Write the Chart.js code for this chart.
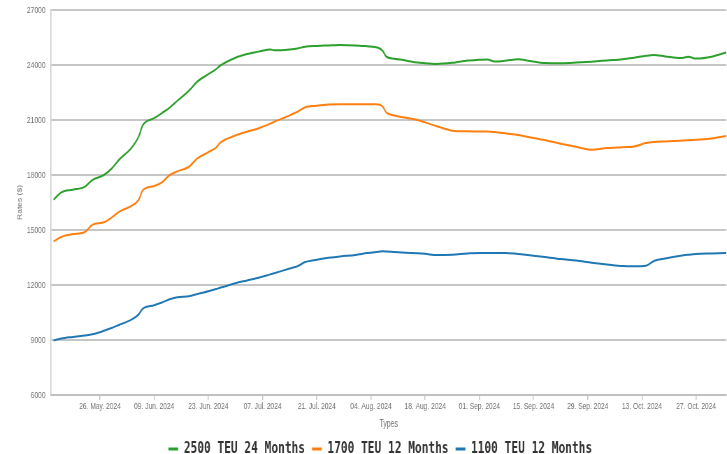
<!DOCTYPE html>
<html>
<head>
<meta charset="utf-8">
<title>Charter Rates</title>
<script src="https://cdn.jsdelivr.net/npm/chart.js@4/dist/chart.umd.min.js"></script>
<style>
    html, body { margin: 0; padding: 0; background: #fff; overflow: hidden; }
    /* the chart is drawn wide and squeezed to 727px, like the original export */
    #chart-wrap {
        width: 1040px;
        height: 454px;
        position: relative;
        transform: scaleX(0.69904);
        transform-origin: 0 0;
    }
</style>
</head>
<body>
<div id="chart-wrap"><canvas id="ratesChart"></canvas></div>
<script>
const dates = [
    '2024-05-14', '2024-05-16', '2024-05-19', '2024-05-22', '2024-05-24', '2024-05-27', '2024-05-29', '2024-05-31',
    '2024-06-03', '2024-06-05', '2024-06-06', '2024-06-09', '2024-06-11', '2024-06-13', '2024-06-15', '2024-06-18',
    '2024-06-20', '2024-06-23', '2024-06-25', '2024-06-26', '2024-06-30', '2024-07-03', '2024-07-06', '2024-07-09',
    '2024-07-10', '2024-07-14', '2024-07-16', '2024-07-18', '2024-07-21', '2024-07-24', '2024-07-27', '2024-07-31',
    '2024-08-03', '2024-08-05', '2024-08-06', '2024-08-07', '2024-08-08', '2024-08-10', '2024-08-13', '2024-08-16',
    '2024-08-18', '2024-08-21', '2024-08-25', '2024-08-29', '2024-09-01', '2024-09-03', '2024-09-05', '2024-09-08',
    '2024-09-11', '2024-09-14', '2024-09-18', '2024-09-22', '2024-09-26', '2024-09-30', '2024-10-04', '2024-10-08',
    '2024-10-11', '2024-10-14', '2024-10-16', '2024-10-19', '2024-10-23', '2024-10-25', '2024-10-27', '2024-10-31',
    '2024-11-04'
];

const teu2500 = [
    16650, 17050, 17200, 17350, 17720, 18000, 18350, 18850,
    19450, 20100, 20700, 21100, 21380, 21680, 22050, 22600,
    23070, 23500, 23780, 23960, 24400, 24600, 24730, 24850,
    24800, 24850, 24900, 25000, 25040, 25065, 25090, 25070,
    25020, 24980, 24930, 24780, 24450, 24340, 24250, 24130,
    24100, 24060, 24120, 24240, 24280, 24300, 24190, 24240,
    24310, 24220, 24110, 24100, 24130, 24180, 24250, 24320,
    24400, 24500, 24540, 24470, 24380, 24450, 24350, 24450,
    24700
];

const teu1700 = [
    14380, 14620, 14780, 14880, 15280, 15420, 15680, 16000,
    16300, 16650, 17150, 17400, 17600, 18000, 18200, 18450,
    18880, 19250, 19500, 19750, 20150, 20360, 20550, 20800,
    20900, 21250, 21450, 21700, 21780, 21840, 21860, 21860,
    21860, 21860, 21850, 21740, 21400, 21250, 21120, 21000,
    20870, 20660, 20420, 20380, 20370, 20370, 20340, 20260,
    20180, 20060, 19900, 19710, 19540, 19380, 19470, 19520,
    19560, 19740, 19800, 19830, 19870, 19890, 19920, 19990,
    20140
];

const teu1100 = [
    8970, 9080, 9170, 9250, 9310, 9500, 9650, 9830,
    10100, 10400, 10700, 10900, 11050, 11220, 11330, 11380,
    11500, 11660, 11780, 11850, 12100, 12250, 12400, 12580,
    12640, 12900, 13020, 13250, 13380, 13480, 13560, 13640,
    13740, 13790, 13810, 13840, 13830, 13800, 13760, 13730,
    13700, 13630, 13650, 13720, 13750, 13750, 13750, 13740,
    13690, 13620, 13530, 13420, 13340, 13220, 13120, 13030,
    13020, 13050, 13300, 13450, 13600, 13650, 13690, 13720,
    13750
];

const seriesNames = ['2500 TEU 24 Months', '1700 TEU 12 Months', '1100 TEU 12 Months'];

const tickDates = [
    '2024-05-26', '2024-06-09', '2024-06-23', '2024-07-07', '2024-07-21', '2024-08-04',
    '2024-08-18', '2024-09-01', '2024-09-15', '2024-09-29', '2024-10-13', '2024-10-27'
];
const tickLabels = [
    '26. May. 2024', '09. Jun. 2024', '23. Jun. 2024', '07. Jul. 2024', '21. Jul. 2024', '04. Aug. 2024',
    '18. Aug. 2024', '01. Sep. 2024', '15. Sep. 2024', '29. Sep. 2024', '13. Oct. 2024', '27. Oct. 2024'
];

const DAY_MS = 86400000;
const ORIGIN = Date.parse('2024-05-26');

/**
 * Converts an ISO date string to a day offset from the origin date.
 * @param {string} s - ISO date
 * @returns {number}
 */
function toDay(s) {
    return (Date.parse(s) - ORIGIN) / DAY_MS;
}

function toPoints(values) {
    return values.map((v, i) => ({ x: toDay(dates[i]), y: v }));
}

const tickFont = { family: "'Liberation Sans', Arial, sans-serif", size: 9.5 };
const tickColor = '#707070';
const colors = ['#2ca02c', '#ff7f0e', '#1f77b4'];

const datasets = [teu2500, teu1700, teu1100].map((values, i) => ({
    label: seriesNames[i],
    data: toPoints(values),
    borderColor: colors[i],
    backgroundColor: colors[i],
    borderWidth: 2,
    pointRadius: 0,
    cubicInterpolationMode: 'monotone',
    fill: false
}));

// The legend in the original sits a little right of the canvas centre
const legendNudge = {
    id: 'legendNudge',
    afterLayout(chart) {
        chart.legend.left += 24;
        chart.legend.right += 24;
    }
};

new Chart(document.getElementById('ratesChart'), {
    type: 'line',
    data: { datasets: datasets },
    plugins: [legendNudge],
    options: {
        responsive: true,
        maintainAspectRatio: false,
        animation: false,
        layout: { padding: { top: 10, left: 0, right: 0, bottom: -13 } },
        plugins: {
            tooltip: { enabled: false },
            legend: {
                position: 'bottom',
                labels: {
                    usePointStyle: true,
                    pointStyle: 'line',
                    pointStyleWidth: 14,
                    padding: 10,
                    color: '#333',
                    font: { family: "'DejaVu Sans Mono', monospace", size: 16, weight: 'bold' },
                    generateLabels(chart) {
                        const items = Chart.defaults.plugins.legend.labels.generateLabels(chart);
                        items.forEach(it => { it.lineWidth = 3; });
                        return items;
                    }
                }
            }
        },
        scales: {
            x: {
                type: 'linear',
                min: -12.65,
                max: 161.8,
                afterBuildTicks(scale) {
                    scale.ticks = tickDates.map(d => ({ value: toDay(d) }));
                },
                afterFit(scale) {
                    scale.height = 36;
                },
                ticks: {
                    autoSkip: false,
                    maxRotation: 0,
                    padding: 1,
                    color: tickColor,
                    font: tickFont,
                    callback: (value, index) => tickLabels[index]
                },
                grid: { drawOnChartArea: false, drawTicks: true, tickLength: 5, color: '#c8c8c8', lineWidth: 1.5 },
                border: { display: true, color: '#c0c0c0', width: 2 },
                title: {
                    display: true,
                    text: 'Types',
                    color: tickColor,
                    font: { family: tickFont.family, size: 10 },
                    padding: { top: 0, bottom: 1 }
                }
            },
            y: {
                min: 6000,
                max: 27000,
                afterFit(scale) {
                    scale.width = 73;
                    scale.paddingTop = 0;
                },
                ticks: {
                    stepSize: 3000,
                    padding: 8,
                    color: tickColor,
                    font: tickFont,
                    callback: value => String(value)
                },
                grid: { color: '#c6c6c6', lineWidth: 2, drawTicks: false },
                border: { display: true, color: '#c8c8c8', width: 1.5 },
                title: {
                    display: true,
                    text: 'Rates ($)',
                    color: tickColor,
                    font: { family: tickFont.family, size: 8.5 },
                    padding: { top: 24, bottom: 0 }
                }
            }
        }
    }
});
</script>
</body>
</html>
